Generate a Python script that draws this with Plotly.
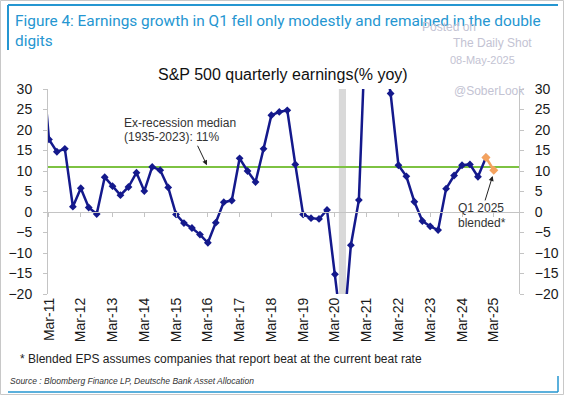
import pandas as pd
import plotly.graph_objects as go

# ---------------- data ----------------
QUARTERS = pd.date_range("2010-12-31", "2025-03-31", freq="QE")
EARNINGS_YOY = [
    40.0,                       # Dec-10 (off-scale)
    17.7, 14.7, 15.4, 1.3,      # 2011
    5.8, 1.1, -0.5, 8.5,        # 2012
    6.3, 4.1, 6.1, 9.6,         # 2013
    5.1, 11.0, 10.2, 6.0,       # 2014
    -0.6, -2.7, -3.9, -5.5,     # 2015
    -7.5, -2.6, 2.4, 2.8,       # 2016
    13.1, 10.0, 7.3, 15.4,      # 2017
    23.6, 24.4, 24.8, 11.6,     # 2018
    -0.6, -1.5, -1.7, 0.5,      # 2019
    -15.2, -31.5, -8.1, 2.9,    # 2020
    52.0, 95.0, 40.0, 28.9,     # 2021
    11.4, 8.7, 2.5, -2.2,       # 2022
    -3.5, -4.4, 5.7, 8.9,       # 2023
    11.4, 11.6, 8.6, 13.3,      # 2024
    10.2,                       # Mar-25 (blended)
]
N_BLENDED = 2                 # last two points drawn in orange (Dec-24 -> Q1 2025 blended)
MEDIAN = 11
RECESSION = ["2020-05-15", "2020-08-05"]
TICK_DATES = [f"{y}-03-31" for y in range(2011, 2026)]
TICK_LABELS = [f"Mar-{str(y)[2:]}" for y in range(2011, 2026)]
X_RANGE = ["2011-03-20", "2026-01-15"]
Y_RANGE = [-20, 30]

NAVY = "#14198C"
ORANGE = "#F4A25E"
GREEN = "#7DC242"
BLUE = "#2596D1"
AXGRAY = "#C4C4C4"

W, H = 564, 395
L, R, T, B = 48, 45, 89, 101
PW, PH = W - L - R, H - T - B


def px(x):
    return (x - L) / PW


def py(y):
    return (H - B - y) / PH


x = list(QUARTERS)
fig = go.Figure()

# median line
fig.add_trace(go.Scatter(x=X_RANGE, y=[MEDIAN, MEDIAN], mode="lines",
                         line=dict(color=GREEN, width=2), hoverinfo="skip", showlegend=False))
# main series
fig.add_trace(go.Scatter(x=x[:-N_BLENDED + 1], y=EARNINGS_YOY[:-N_BLENDED + 1], mode="lines+markers",
                         line=dict(color=NAVY, width=2.5),
                         marker=dict(symbol="diamond", size=6, color=NAVY),
                         showlegend=False))
# blended segment
fig.add_trace(go.Scatter(x=x[-N_BLENDED:], y=EARNINGS_YOY[-N_BLENDED:], mode="lines+markers",
                         line=dict(color=ORANGE, width=2.5),
                         marker=dict(symbol="diamond", size=7, color=ORANGE),
                         showlegend=False))
# dummy trace for secondary axes (right y axis and zero-line x axis)
fig.add_trace(go.Scatter(x=[x[1]], y=[MEDIAN], xaxis="x2", yaxis="y2", mode="markers",
                         marker=dict(opacity=0), hoverinfo="skip", showlegend=False))

yax = dict(range=Y_RANGE, dtick=5, showgrid=False, zeroline=False, showline=True,
           linecolor=AXGRAY, linewidth=1, ticks="outside", ticklen=4, tickcolor=AXGRAY,
           tickfont=dict(family="Liberation Sans, Arial", size=14, color="#1a1a1a"),
           ticklabelstandoff=8, automargin=False)

fig.update_layout(
    width=W, height=H, autosize=False,
    margin=dict(l=L, r=R, t=T, b=B, pad=0, autoexpand=False),
    paper_bgcolor="white", plot_bgcolor="white",
    xaxis=dict(type="date", range=X_RANGE, tickvals=TICK_DATES, ticktext=TICK_LABELS,
               tickangle=-90, showgrid=False, zeroline=False, showline=False, ticks="",
               automargin=False,
               tickfont=dict(family="Liberation Sans, Arial", size=14, color="#1a1a1a")),
    xaxis2=dict(type="date", range=X_RANGE, overlaying="x", anchor="free",
                position=(0 - Y_RANGE[0]) / (Y_RANGE[1] - Y_RANGE[0]),
                tickvals=TICK_DATES, showticklabels=False, showgrid=False, zeroline=False,
                showline=True, linecolor=AXGRAY, linewidth=1, ticks="outside", ticklen=4,
                tickcolor=AXGRAY, automargin=False),
    yaxis=yax,
    yaxis2=dict(yax, overlaying="y", side="right", anchor="x2"),
    shapes=[
        dict(type="rect", xref="x", yref="paper", x0=RECESSION[0], x1=RECESSION[1], y0=0, y1=1,
             fillcolor="#D9D9D9", line=dict(width=0), layer="below"),
        # frame decorations
        dict(type="rect", xref="paper", yref="paper", x0=px(0.5), x1=px(563.5), y0=py(0.5), y1=py(394.5),
             line=dict(color="#C8C8C8", width=1)),
        dict(type="line", xref="paper", yref="paper", x0=px(8), x1=px(558), y0=py(5), y1=py(5),
             line=dict(color=BLUE, width=2)),
        dict(type="line", xref="paper", yref="paper", x0=px(8), x1=px(8), y0=py(5), y1=py(50),
             line=dict(color=BLUE, width=2)),
        dict(type="line", xref="paper", yref="paper", x0=px(8), x1=px(558), y0=py(392), y1=py(392),
             line=dict(color=BLUE, width=1.5)),
        dict(type="line", xref="paper", yref="paper", x0=px(558), x1=px(558), y0=py(376), y1=py(392),
             line=dict(color=BLUE, width=1.5)),
    ],
)

ann = []


def text(xp, yp, s, size, color, family="Liberation Sans, Arial", xanchor="left", italic=False):
    ann.append(dict(xref="paper", yref="paper", x=px(xp), y=py(yp), text=s, showarrow=False,
                    xanchor=xanchor, yanchor="middle", align="left",
                    font=dict(family=family, size=size, color=color,
                              style="italic" if italic else "normal")))


text(13, 21, "Figure 4: Earnings growth in Q1 fell only modestly and remained in the double", 15.4, BLUE,
     family="Roboto")
text(13, 41, "digits", 15.4, BLUE, family="Roboto")
text(449, 27, "Posted on", 12, "#C3C3D3", xanchor="center")
text(492, 43, "The Daily Shot", 12, "#C3C3D3", xanchor="center")
text(482, 60, "08-May-2025", 11, "#C3C3D3", xanchor="center")
text(489, 91, "@SoberLook", 12, "#C3C3D3", xanchor="center")
text(283, 75, "S&P 500 quarterly earnings(% yoy)", 16, "#111111", xanchor="center")
text(122, 123, "Ex-recession median", 12, "#333333")
text(122, 137, "(1935-2023): 11%", 12, "#333333")
text(456, 208, "Q1 2025", 12, "#333333")
text(456, 223, "blended*", 12, "#333333")
text(18, 359, "* Blended EPS assumes companies that report beat at the current beat rate", 12, "#222222")
text(8, 381, "Source : Bloomberg Finance LP, Deutsche Bank Asset Allocation", 8.5, "#333333", italic=True)

# arrows
ann.append(dict(x="2016-03-20", y=11.4, xref="x", yref="y", text="", showarrow=True,
                arrowhead=2, arrowsize=1, arrowwidth=1, arrowcolor="#222222", ax=-10, ay=-21))
ann.append(dict(x="2025-03-18", y=8.8, xref="x", yref="y", text="", showarrow=True,
                arrowhead=2, arrowsize=1, arrowwidth=1, arrowcolor="#222222", ax=-8, ay=26))

fig.update_layout(annotations=ann)
fig.write_html(
    "out.html",
    config={"displayModeBar": False, "responsive": False},
    post_script="document.body.style.margin='0px';document.body.style.padding='0px';"
                "document.body.style.overflow='hidden';",
)
